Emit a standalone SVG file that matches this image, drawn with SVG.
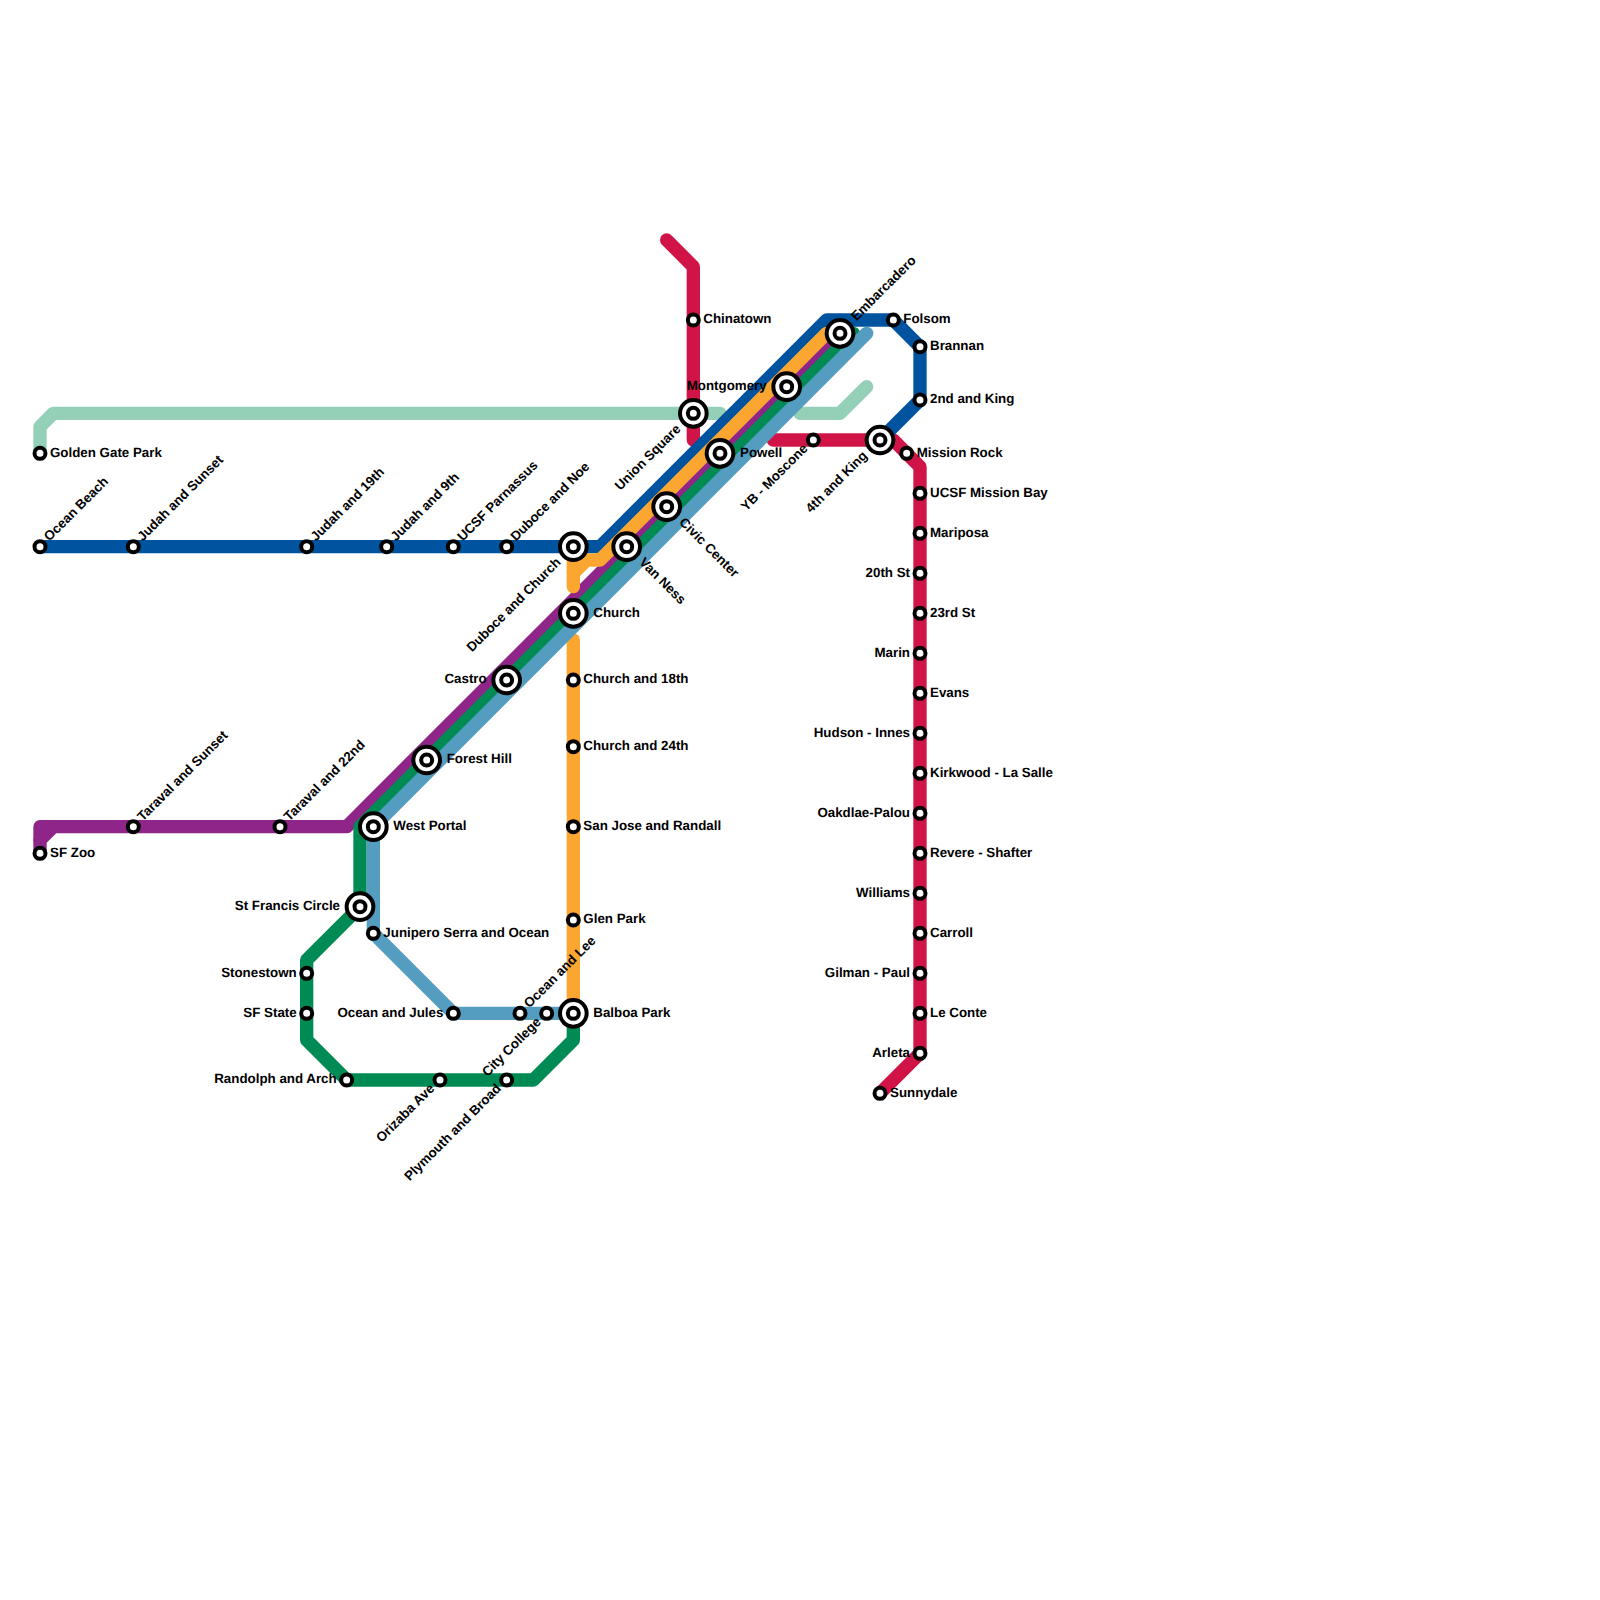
<svg xmlns="http://www.w3.org/2000/svg" width="1600" height="1600" viewBox="0 0 1600 1600">
<style>
.l{fill:none;stroke-width:1;stroke-linecap:round;stroke-linejoin:round}
.s{fill:#fff;stroke:#000;stroke-width:4}
text{font-family:"Liberation Sans",Arial,sans-serif;font-weight:700;font-size:13.33px;fill:#000;text-rendering:geometricPrecision}
.e{text-anchor:end}
</style>
<defs>
<g id="sm"><circle class="s" r="5.5"/></g>
<g id="bg"><circle class="s" r="13.33"/><circle class="s" r="5.5"/></g>
</defs>
<rect width="1600" height="1600" fill="#fff"/>
<g id="connectors" transform="scale(13.33333)">
<polyline class="l" stroke="#94cfb8" points="3,34 3,32 4,31 54,31"/>
<polyline class="l" stroke="#94cfb8" points="60,31 63,31 65,29"/>
<polyline class="l" stroke="#d11447" points="50,18 52,20 52,33"/>
<polyline class="l" stroke="#d11447" points="58,33 66,33 67,33 69,35 69,79 66,82"/>
<polyline class="l" stroke="#00549f" points="3,41 45,41 62,24 67,24 69,26 69,30 66,33"/>
<polyline class="l" stroke="#8f2588" points="3,64 3,63 4,62 26,62 63,25"/>
<polyline class="l" stroke="#8f2588" points="3,63 3,62 4,62"/>
<polyline class="l" stroke="#008b55" points="43,76 43,78 40,81 26,81 23,78 23,72 27,68 27,62 64,25"/>
<polyline class="l" stroke="#fca632" points="43,44 43,43 44,42 45,42 62,25"/>
<polyline class="l" stroke="#fca632" points="43,43 43,42 44,42"/>
<polyline class="l" stroke="#fca632" points="43,48 43,76"/>
<polyline class="l" stroke="#559dc0" points="65,25 28,62 28,70 34,76 43,76"/>
</g>
<g id="n-golden-gate-park" transform="translate(40 453.33)"><use href="#sm"/><text x="10" y="3.4">Golden Gate Park</text></g>
<g id="n-ocean-beach" transform="translate(40 546.67)"><use href="#sm"/><text x="10" y="3.2" transform="rotate(-45)">Ocean Beach</text></g>
<g id="n-judah-sunset" transform="translate(133.33 546.67)"><use href="#sm"/><text x="10" y="3.2" transform="rotate(-45)">Judah and Sunset</text></g>
<g id="n-judah-19th" transform="translate(306.67 546.67)"><use href="#sm"/><text x="10" y="3.2" transform="rotate(-45)">Judah and 19th</text></g>
<g id="n-judah-9th" transform="translate(386.67 546.67)"><use href="#sm"/><text x="10" y="3.2" transform="rotate(-45)">Judah and 9th</text></g>
<g id="n-ucsf-parnassus" transform="translate(453.33 546.67)"><use href="#sm"/><text x="10" y="3.2" transform="rotate(-45)">UCSF Parnassus</text></g>
<g id="n-duboce-noe" transform="translate(506.67 546.67)"><use href="#sm"/><text x="10" y="3.2" transform="rotate(-45)">Duboce and Noe</text></g>
<g id="n-duboce-church" transform="translate(573.33 546.67)"><use href="#bg"/><text class="e" x="-20" y="3.2" transform="rotate(-45)">Duboce and Church</text></g>
<g id="n-van-ness" transform="translate(626.67 546.67)"><use href="#bg"/><text x="20" y="3.2" transform="rotate(45)">Van Ness</text></g>
<g id="n-civic-center" transform="translate(666.67 506.67)"><use href="#bg"/><text x="20" y="3.2" transform="rotate(45)">Civic Center</text></g>
<g id="n-powell" transform="translate(720 453.33)"><use href="#bg"/><text x="20" y="3.4">Powell</text></g>
<g id="n-montgomery" transform="translate(786.67 386.67)"><use href="#bg"/><text class="e" x="-20" y="3.4">Montgomery</text></g>
<g id="n-embarcadero" transform="translate(840 333.33)"><use href="#bg"/><text x="20" y="3.2" transform="rotate(-45)">Embarcadero</text></g>
<g id="n-chinatown" transform="translate(693.33 320)"><use href="#sm"/><text x="10" y="3.4">Chinatown</text></g>
<g id="n-union-square" transform="translate(693.33 413.33)"><use href="#bg"/><text class="e" x="-20" y="3.2" transform="rotate(-45)">Union Square</text></g>
<g id="n-yb-moscone" transform="translate(813.33 440)"><use href="#sm"/><text class="e" x="-10" y="3.2" transform="rotate(-45)">YB - Moscone</text></g>
<g id="n-4th-king" transform="translate(880 440)"><use href="#bg"/><text class="e" x="-20" y="3.2" transform="rotate(-45)">4th and King</text></g>
<g id="n-folsom" transform="translate(893.33 320)"><use href="#sm"/><text x="10" y="3.4">Folsom</text></g>
<g id="n-brannan" transform="translate(920 346.67)"><use href="#sm"/><text x="10" y="3.4">Brannan</text></g>
<g id="n-2nd-king" transform="translate(920 400)"><use href="#sm"/><text x="10" y="3.4">2nd and King</text></g>
<g id="n-mission-rock" transform="translate(906.67 453.33)"><use href="#sm"/><text x="10" y="3.4">Mission Rock</text></g>
<g id="n-ucsf-mission-bay" transform="translate(920 493.33)"><use href="#sm"/><text x="10" y="3.4">UCSF Mission Bay</text></g>
<g id="n-mariposa" transform="translate(920 533.33)"><use href="#sm"/><text x="10" y="3.4">Mariposa</text></g>
<g id="n-20th" transform="translate(920 573.33)"><use href="#sm"/><text class="e" x="-10" y="3.4">20th St</text></g>
<g id="n-23rd" transform="translate(920 613.33)"><use href="#sm"/><text x="10" y="3.4">23rd St</text></g>
<g id="n-marin" transform="translate(920 653.33)"><use href="#sm"/><text class="e" x="-10" y="3.4">Marin</text></g>
<g id="n-evans" transform="translate(920 693.33)"><use href="#sm"/><text x="10" y="3.4">Evans</text></g>
<g id="n-hudson" transform="translate(920 733.33)"><use href="#sm"/><text class="e" x="-10" y="3.4">Hudson - Innes</text></g>
<g id="n-kirkwood" transform="translate(920 773.33)"><use href="#sm"/><text x="10" y="3.4">Kirkwood - La Salle</text></g>
<g id="n-oakdale" transform="translate(920 813.33)"><use href="#sm"/><text class="e" x="-10" y="3.4">Oakdlae-Palou</text></g>
<g id="n-revere" transform="translate(920 853.33)"><use href="#sm"/><text x="10" y="3.4">Revere - Shafter</text></g>
<g id="n-williams" transform="translate(920 893.33)"><use href="#sm"/><text class="e" x="-10" y="3.4">Williams</text></g>
<g id="n-carroll" transform="translate(920 933.33)"><use href="#sm"/><text x="10" y="3.4">Carroll</text></g>
<g id="n-gilman" transform="translate(920 973.33)"><use href="#sm"/><text class="e" x="-10" y="3.4">Gilman - Paul</text></g>
<g id="n-le-conte" transform="translate(920 1013.33)"><use href="#sm"/><text x="10" y="3.4">Le Conte</text></g>
<g id="n-arleta" transform="translate(920 1053.33)"><use href="#sm"/><text class="e" x="-10" y="3.4">Arleta</text></g>
<g id="n-sunnydale" transform="translate(880 1093.33)"><use href="#sm"/><text x="10" y="3.4">Sunnydale</text></g>
<g id="n-church" transform="translate(573.33 613.33)"><use href="#bg"/><text x="20" y="3.4">Church</text></g>
<g id="n-castro" transform="translate(506.67 680)"><use href="#bg"/><text class="e" x="-20" y="3.4">Castro</text></g>
<g id="n-forest-hill" transform="translate(426.67 760)"><use href="#bg"/><text x="20" y="3.4">Forest Hill</text></g>
<g id="n-west-portal" transform="translate(373.33 826.67)"><use href="#bg"/><text x="20" y="3.4">West Portal</text></g>
<g id="n-st-francis" transform="translate(360 906.67)"><use href="#bg"/><text class="e" x="-20" y="3.4">St Francis Circle</text></g>
<g id="n-junipero" transform="translate(373.33 933.33)"><use href="#sm"/><text x="10" y="3.4">Junipero Serra and Ocean</text></g>
<g id="n-ocean-jules" transform="translate(453.33 1013.33)"><use href="#sm"/><text class="e" x="-10" y="3.4">Ocean and Jules</text></g>
<g id="n-ocean-lee" transform="translate(520 1013.33)"><use href="#sm"/><text x="10" y="3.2" transform="rotate(-45)">Ocean and Lee</text></g>
<g id="n-city-college" transform="translate(546.67 1013.33)"><use href="#sm"/><text class="e" x="-10" y="3.2" transform="rotate(-45)">City College</text></g>
<g id="n-balboa" transform="translate(573.33 1013.33)"><use href="#bg"/><text x="20" y="3.4">Balboa Park</text></g>
<g id="n-stonestown" transform="translate(306.67 973.33)"><use href="#sm"/><text class="e" x="-10" y="3.4">Stonestown</text></g>
<g id="n-sf-state" transform="translate(306.67 1013.33)"><use href="#sm"/><text class="e" x="-10" y="3.4">SF State</text></g>
<g id="n-randolph" transform="translate(346.67 1080)"><use href="#sm"/><text class="e" x="-10" y="3.4">Randolph and Arch</text></g>
<g id="n-orizaba" transform="translate(440 1080)"><use href="#sm"/><text class="e" x="-10" y="3.2" transform="rotate(-45)">Orizaba Ave</text></g>
<g id="n-plymouth" transform="translate(506.67 1080)"><use href="#sm"/><text class="e" x="-10" y="3.2" transform="rotate(-45)">Plymouth and Broad</text></g>
<g id="n-church-18th" transform="translate(573.33 680)"><use href="#sm"/><text x="10" y="3.4">Church and 18th</text></g>
<g id="n-church-24th" transform="translate(573.33 746.67)"><use href="#sm"/><text x="10" y="3.4">Church and 24th</text></g>
<g id="n-san-jose" transform="translate(573.33 826.67)"><use href="#sm"/><text x="10" y="3.4">San Jose and Randall</text></g>
<g id="n-glen-park" transform="translate(573.33 920)"><use href="#sm"/><text x="10" y="3.4">Glen Park</text></g>
<g id="n-taraval-sunset" transform="translate(133.33 826.67)"><use href="#sm"/><text x="10" y="3.2" transform="rotate(-45)">Taraval and Sunset</text></g>
<g id="n-taraval-22nd" transform="translate(280 826.67)"><use href="#sm"/><text x="10" y="3.2" transform="rotate(-45)">Taraval and 22nd</text></g>
<g id="n-sf-zoo" transform="translate(40 853.33)"><use href="#sm"/><text x="10" y="3.4">SF Zoo</text></g>
</svg>
